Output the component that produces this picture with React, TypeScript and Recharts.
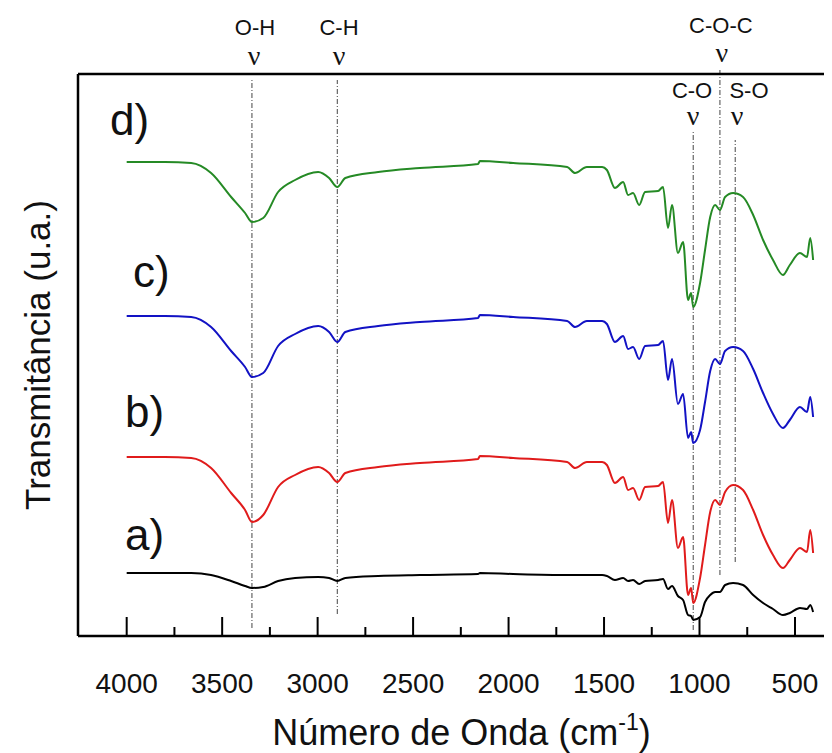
import React from "react";
import { LineChart, Line, XAxis, YAxis, ReferenceLine, ReferenceDot, Label } from "recharts";

// número de onda (cm-1), do maior para o menor
const wavenumbers = [
  4000, 3800, 3662, 3558, 3453, 3380, 3344, 3285, 3207, 3118, 2997, 2940, 2897, 2855, 2683, 2464,
  2160, 2150, 1976, 1693, 1652, 1590, 1510, 1485, 1443, 1400, 1374, 1348, 1316, 1285, 1217, 1191,
  1165, 1144, 1113, 1086, 1060, 1044, 1033, 997, 971, 944, 918, 893, 866, 824, 772, 719, 667, 615,
  563, 527, 474, 437, 420, 405,
];

// transmitância (u.a.)
const seriesA = [
  63, 63, 63, 61, 55, 50, 48, 49, 55, 58, 59, 58, 55, 58, 60, 61,
  62, 63, 62, 61, 61, 61, 61, 60, 56, 58, 55, 56, 52, 55, 56, 57,
  47, 50, 40, 36, 21, 20, 16, 19, 34, 41, 44, 44, 51, 53, 51, 41, 33, 27,
  21, 23, 28, 27, 31, 24,
];
const seriesB = [
  179, 179, 178, 168, 143, 126, 114, 121, 149, 161, 169, 163, 154, 163, 169, 173,
  177, 180, 178, 174, 168, 174, 174, 171, 153, 159, 146, 148, 136, 149, 150, 154,
  113, 136, 88, 99, 41, 48, 33, 58, 91, 124, 136, 131, 144, 151, 146, 126, 101, 81,
  68, 76, 88, 84, 106, 83,
];
const seriesC = [
  320, 320, 319, 309, 285, 269, 259, 263, 290, 302, 310, 304, 294, 304, 310, 314,
  318, 321, 319, 315, 309, 315, 315, 312, 294, 300, 287, 289, 277, 290, 291, 295,
  256, 277, 232, 242, 198, 204, 193, 206, 234, 265, 277, 272, 285, 289, 285, 267, 243, 222,
  208, 216, 229, 224, 239, 219,
];
const seriesD = [
  474, 474, 473, 463, 439, 423, 414, 418, 444, 456, 464, 458, 449, 458, 464, 468,
  472, 475, 473, 469, 463, 469, 469, 466, 448, 454, 441, 443, 431, 444, 445, 449,
  408, 431, 383, 394, 336, 343, 329, 353, 386, 419, 431, 426, 439, 443, 439, 421, 396, 376,
  361, 371, 383, 379, 398, 376,
];

const xTicks = [4000, 3750, 3500, 3250, 3000, 2750, 2500, 2250, 2000, 1750, 1500, 1250, 1000, 750, 500];

const sampleNames = ["a)", "b)", "c)", "d)"];
const sampleLabelX = [4009, 4009, 3967, 4087];
const sampleLabelY = [86, 209, 349, 501];

const bandNames = ["O-H", "C-H", "C-O", "C-O-C", "S-O"];
const bandPositions = [3344, 2897, 1033, 893, 813];
const bandLineFrom = [8, 22, 6, 61, 74];
const bandLineTo = [556, 556, 504, 566, 496];
const bandTextX = [3328, 2888, 1039, 888, 741];
const bandTextY = [601, 601, 538, 603, 538];
const bandNuX = [3333, 2888, 1034, 883, 803];
const bandNuY = [571, 571, 511, 574, 511];

const data = wavenumbers.map((wn, i) => ({
  wn,
  a: seriesA[i],
  b: seriesB[i],
  c: seriesC[i],
  d: seriesD[i],
}));

const SANS = "'Liberation Sans', Arial, sans-serif";
const SERIF = "'Liberation Serif', 'Times New Roman', serif";

const AxisTick = (props: any) => {
  const { x, y, payload } = props;
  const major = payload.value % 500 === 0;
  return (
    <g>
      <line x1={x} x2={x} y1={y} y2={y - (major ? 19 : 9)} stroke="#000" strokeWidth={2} />
      {major && (
        <text x={x} y={y + 57} textAnchor="middle" fontSize={28} fontFamily={SANS} fill="#111">
          {payload.value}
        </text>
      )}
    </g>
  );
};

const textShape = (value: string, size: number, family: string, anchor: string) => (props: any) => (
  <text x={props.cx} y={props.cy} textAnchor={anchor} fontSize={size} fontFamily={family} fill="#111">
    {value}
  </text>
);

export default function App() {
  return (
    <div style={{ width: 824, height: 745, overflow: "hidden" }}>
      <LineChart
        width={837}
        height={745}
        data={data}
        margin={{ top: 65, right: 0, left: 69, bottom: 0 }}
      >
        <XAxis
          dataKey="wn"
          type="number"
          domain={[238, 4255]}
          reversed
          allowDataOverflow
          ticks={xTicks}
          interval={0}
          tick={AxisTick}
          tickLine={false}
          tickSize={0}
          tickMargin={0}
          height={117}
          axisLine={{ stroke: "#000", strokeWidth: 2.5 }}
        >
          <Label
            content={(p: any) => {
              const vb = p.viewBox;
              return (
                <text x={vb.x + vb.width / 2} y={vb.y + 109} textAnchor="middle" fontSize={36} fontFamily={SANS} fill="#111">
                  <tspan>Número de Onda (cm</tspan>
                  <tspan dy={-15} fontSize={23}>-1</tspan>
                  <tspan dy={15}>)</tspan>
                </text>
              );
            }}
          />
        </XAxis>
        <XAxis
          xAxisId="top"
          orientation="top"
          dataKey="wn"
          type="number"
          domain={[238, 4255]}
          reversed
          height={1}
          tick={false}
          tickLine={false}
          axisLine={{ stroke: "#000", strokeWidth: 2.5 }}
        />
        <YAxis
          type="number"
          domain={[0, 562]}
          width={1}
          tick={false}
          tickLine={false}
          axisLine={{ stroke: "#000", strokeWidth: 2.5 }}
        >
          <Label
            content={(p: any) => {
              const vb = p.viewBox;
              const lx = vb.x + vb.width - 28;
              const ly = vb.y + vb.height / 2;
              return (
                <text x={lx} y={ly} transform={`rotate(-90, ${lx}, ${ly})`} textAnchor="middle" fontSize={35} fontFamily={SANS} fill="#111">
                  Transmitância (u.a.)
                </text>
              );
            }}
          />
        </YAxis>

        {bandPositions.map((wn, i) => (
          <ReferenceLine
            key={bandNames[i]}
            segment={[{ x: wn, y: bandLineFrom[i] }, { x: wn, y: bandLineTo[i] }]}
            stroke="#444"
            strokeWidth={1}
            strokeDasharray="5 2 1 2"
            ifOverflow="visible"
          />
        ))}

        <Line type="monotone" dataKey="a" stroke="#000000" strokeWidth={2} dot={false} isAnimationActive={false} />
        <Line type="monotone" dataKey="b" stroke="#e01b1b" strokeWidth={2} dot={false} isAnimationActive={false} />
        <Line type="monotone" dataKey="c" stroke="#1212c4" strokeWidth={2} dot={false} isAnimationActive={false} />
        <Line type="monotone" dataKey="d" stroke="#258a25" strokeWidth={2} dot={false} isAnimationActive={false} />

        {sampleNames.map((name, i) => (
          <ReferenceDot
            key={name}
            x={sampleLabelX[i]}
            y={sampleLabelY[i]}
            r={0}
            ifOverflow="visible"
            shape={textShape(name, 44, SANS, "start")}
          />
        ))}
        {bandNames.map((name, i) => (
          <ReferenceDot
            key={"t" + name}
            x={bandTextX[i]}
            y={bandTextY[i]}
            r={0}
            ifOverflow="visible"
            shape={textShape(name, 22, SANS, "middle")}
          />
        ))}
        {bandNames.map((name, i) => (
          <ReferenceDot
            key={"n" + name}
            x={bandNuX[i]}
            y={bandNuY[i]}
            r={0}
            ifOverflow="visible"
            shape={textShape("ν", 28, SERIF, "middle")}
          />
        ))}
      </LineChart>
    </div>
  );
}
